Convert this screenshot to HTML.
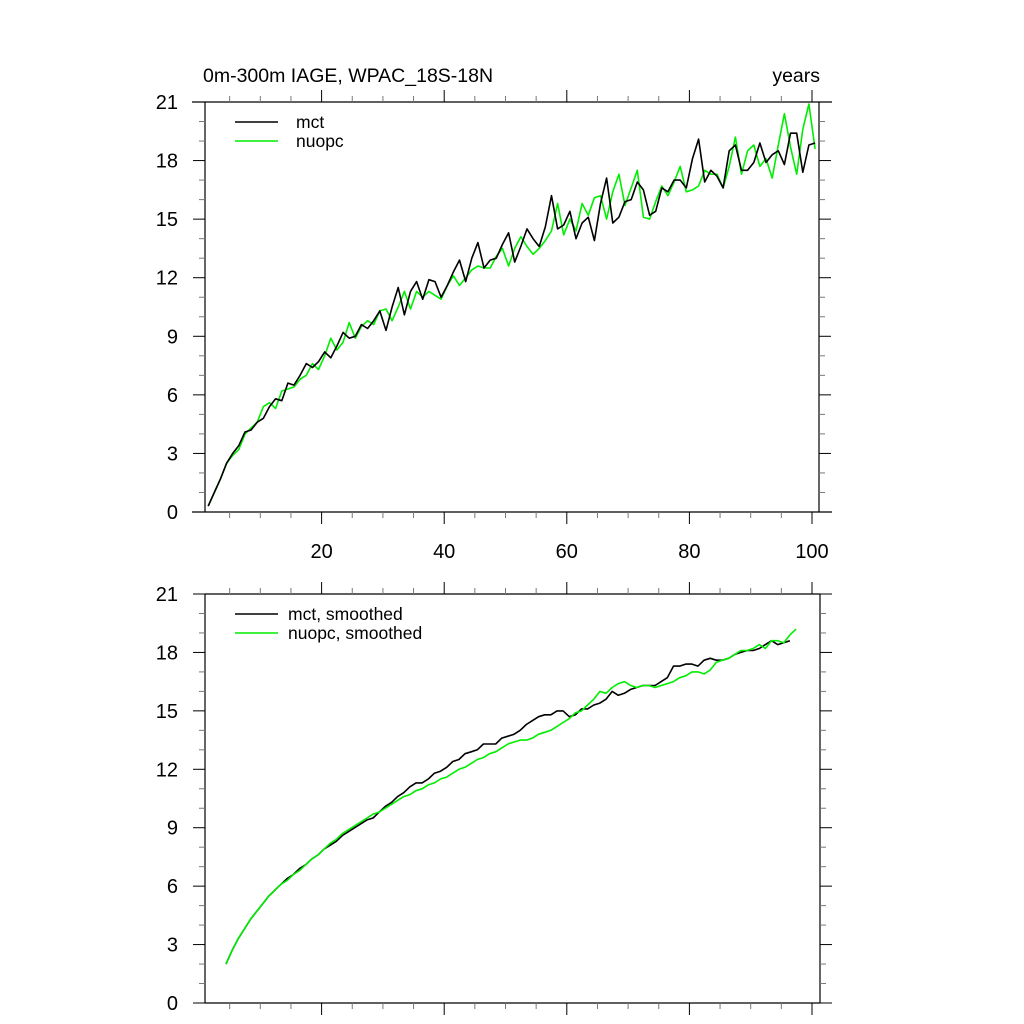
<!DOCTYPE html>
<html><head><meta charset="utf-8"><style>
html,body{margin:0;padding:0;background:#fff;}
svg{display:block;font-family:"Liberation Sans",sans-serif;}
</style></head><body>
<svg id="chart" width="1024" height="1024" viewBox="0 0 1024 1024" xmlns="http://www.w3.org/2000/svg">
<text x="203" y="82" font-size="19.5">0m-300m IAGE, WPAC_18S-18N</text>
<text x="820" y="82" font-size="19.5" text-anchor="end">years</text>
<g id="top"></g>
<g id="bot"></g>
</svg>
<script>
const yTicks=[0,3,6,9,12,15,18,21];
const xTicks=[20,40,60,80,100];
const mctRaw=[0.3,1.0,1.7,2.5,3.0,3.4,4.1,4.2,4.6,4.8,5.4,5.8,5.7,6.6,6.5,7.0,7.6,7.4,7.7,8.2,7.9,8.5,9.2,8.9,9.0,9.6,9.4,9.8,10.3,9.3,10.5,11.5,10.1,11.3,11.8,10.9,11.9,11.8,11.0,11.6,12.3,12.9,11.8,13.0,13.8,12.5,12.9,13.0,13.7,14.3,12.8,13.6,14.5,14.0,13.6,14.6,16.2,14.5,14.7,15.4,14.0,14.8,15.1,13.9,15.8,17.1,14.8,15.1,15.9,16.0,16.9,16.5,15.2,15.4,16.6,16.4,17.0,17.0,16.6,18.1,19.1,16.9,17.5,17.2,16.6,18.5,18.8,17.5,17.5,17.9,18.9,17.9,18.3,18.5,17.8,19.4,19.4,17.4,18.8,18.9];
const nuoRaw=[0.3,1.0,1.7,2.5,2.9,3.2,4.0,4.3,4.6,5.4,5.6,5.3,6.2,6.3,6.4,6.8,7.0,7.6,7.3,8.0,8.9,8.3,8.7,9.7,8.9,9.5,9.8,9.6,10.3,10.4,9.8,10.5,11.3,10.4,11.3,11.0,11.3,11.1,10.9,11.6,12.1,11.6,12.0,12.4,12.6,12.5,12.5,13.1,13.5,12.6,13.5,14.1,13.6,13.2,13.5,13.9,14.4,15.8,14.2,15.0,14.4,15.8,15.2,16.1,16.2,15.0,16.4,17.3,15.7,16.6,17.5,15.1,15.0,15.9,16.7,16.2,16.9,17.7,16.4,16.5,16.7,17.5,17.3,17.3,16.6,17.7,19.2,17.3,18.5,18.8,17.7,18.1,17.1,18.8,20.4,18.7,17.3,19.6,20.9,18.6];
const mctSm=[2.0,2.7,3.3,3.8,4.3,4.7,5.1,5.5,5.8,6.1,6.4,6.6,6.9,7.1,7.4,7.6,7.9,8.1,8.3,8.6,8.8,9.0,9.2,9.4,9.5,9.8,10.1,10.3,10.6,10.8,11.1,11.3,11.3,11.5,11.8,11.9,12.1,12.4,12.5,12.8,12.9,13.0,13.3,13.3,13.3,13.6,13.7,13.8,14.0,14.3,14.5,14.7,14.8,14.8,15.0,15.0,14.7,14.8,15.1,15.1,15.3,15.4,15.6,16.0,15.8,15.9,16.1,16.2,16.3,16.3,16.3,16.5,16.7,17.3,17.3,17.4,17.4,17.3,17.6,17.7,17.6,17.6,17.7,17.9,18.0,18.1,18.1,18.2,18.4,18.6,18.4,18.5,18.6];
const nuoSm=[2.0,2.7,3.3,3.8,4.3,4.7,5.1,5.5,5.8,6.1,6.3,6.6,6.8,7.1,7.4,7.6,7.9,8.2,8.4,8.7,8.9,9.1,9.3,9.5,9.7,9.8,10.0,10.2,10.4,10.6,10.7,10.9,11.0,11.2,11.3,11.5,11.6,11.8,12.0,12.1,12.3,12.5,12.6,12.8,12.9,13.1,13.3,13.4,13.5,13.5,13.6,13.8,13.9,14.0,14.2,14.4,14.6,14.9,15.0,15.3,15.6,16.0,15.9,16.2,16.4,16.5,16.3,16.2,16.3,16.3,16.2,16.3,16.4,16.5,16.7,16.8,17.0,17.0,16.9,17.1,17.5,17.6,17.7,17.9,18.1,18.1,18.2,18.4,18.2,18.6,18.6,18.5,18.9,19.2];
const rawStart=1.5, smStart=4.4;
const NS='http://www.w3.org/2000/svg';
function mk(parent,tag,attrs){const e=document.createElementNS(NS,tag);for(const k in attrs)e.setAttribute(k,attrs[k]);parent.appendChild(e);return e;}
function panel(g,top,bottom,left,right,frameL,frameR,showXLabels,series,legend){
  const xs=t=>199+6.13*t;
  const ys=v=>bottom-(bottom-top)*v/21;
  let e;
  e=mk(g,'line',{x1:frameL,x2:frameR,y1:top,y2:top,stroke:'#000','stroke-width':1.2});
  
  e=mk(g,'line',{x1:frameL,x2:frameR,y1:bottom,y2:bottom,stroke:'#000','stroke-width':1.2});
  
  e=mk(g,'line',{x1:left,x2:left,y1:top,y2:bottom,stroke:'#000','stroke-width':1.2});
  
  e=mk(g,'line',{x1:right,x2:right,y1:top,y2:bottom,stroke:'#000','stroke-width':1.2});
  
  for(let v=0;v<=21;v++){
    const y=ys(v);const maj=v%3===0;const len=maj?12:6;
    e=mk(g,'line',{x1:left-len,x2:left,y1:y,y2:y,stroke:maj?'#000':'#777','stroke-width':1});
    
    e=mk(g,'line',{x1:right,x2:right+len,y1:y,y2:y,stroke:maj?'#000':'#777','stroke-width':1});
    
  }
  yTicks.forEach(v=>{
    e=mk(g,'text',{x:178,y:ys(v)+7,'font-size':20,'text-anchor':'end'});e.textContent=v;
    
  });
  for(let t=5;t<=100;t+=5){
    const x=xs(t);const maj=t%20===0;const len=maj?12:6;
    e=mk(g,'line',{x1:x,x2:x,y1:bottom,y2:bottom+len,stroke:maj?'#000':'#777','stroke-width':1});
    
    e=mk(g,'line',{x1:x,x2:x,y1:top-len,y2:top,stroke:maj?'#000':'#777','stroke-width':1});
    
  }
  if(showXLabels) xTicks.forEach(t=>{
    e=mk(g,'text',{x:xs(t),y:bottom+46,'font-size':20,'text-anchor':'middle'});e.textContent=t;
    
  });
  series.forEach(s=>{
    const pts=s.vals.map((v,i)=>xs(s.start+i).toFixed(1)+','+ys(v).toFixed(1)).join(' ');
    e=mk(g,'polyline',{points:pts,fill:'none',stroke:s.color,'stroke-width':1.6,'stroke-linejoin':'round'});
    
  });
  legend.forEach((l,i)=>{
    const y=top+20+i*19;
    e=mk(g,'line',{x1:235,x2:278,y1:y,y2:y,stroke:l.color,'stroke-width':1.6});
    
    e=mk(g,'text',{x:l.tx,y:y+6,'font-size':17.5});e.textContent=l.label;
    
  });
}
panel(document.getElementById('top'),102,512,205,819,192,832,true,
  [{vals:nuoRaw,start:rawStart,color:'#00ee00',name:'nuopc-line'},{vals:mctRaw,start:rawStart,color:'#000',name:'mct-line'}],
  [{color:'#000',label:'mct',tx:296},{color:'#00ee00',label:'nuopc',tx:296}]);
panel(document.getElementById('bot'),594,1003,205,820,205,820,false,
  [{vals:mctSm,start:smStart,color:'#000',name:'mct-smoothed-line'},{vals:nuoSm,start:smStart,color:'#00ee00',name:'nuopc-smoothed-line'}],
  [{color:'#000',label:'mct, smoothed',tx:288},{color:'#00ee00',label:'nuopc, smoothed',tx:288}]);
</script>
</body></html>
